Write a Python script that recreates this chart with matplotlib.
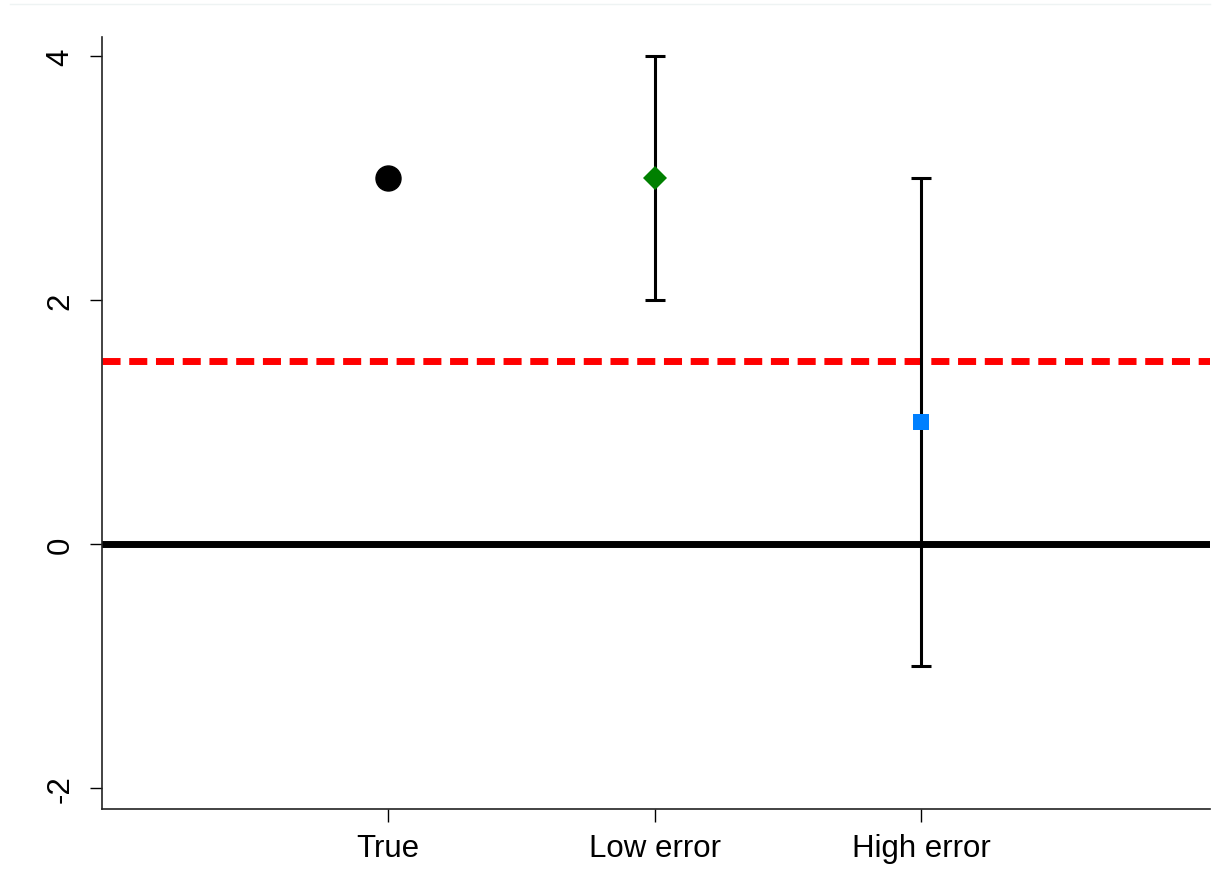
import numpy as np
import matplotlib.pyplot as plt

plt.rcParams['font.family'] = ['Liberation Sans', 'DejaVu Sans']

groups = ["True", "Low error", "High error"]
pos = [1, 2, 3]
est = [3, 3, 1]
lo = [None, 2, -1]
hi = [None, 4, 3]
ref_line = 1.5
yticks = [-2, 0, 2, 4]

fig = plt.figure(figsize=(12.22, 8.95), dpi=100)
ax = fig.add_axes([0.0835, 0.095, 0.9067, 0.8625])

ax.axhline(0, color='black', lw=5, zorder=1)
ax.axhline(ref_line, color='red', lw=5, dashes=(2.6, 1.25), zorder=1)

# error bars for the two estimators
for i in [1, 2]:
    ax.errorbar(pos[i], est[i], yerr=[[est[i] - lo[i]], [hi[i] - est[i]]],
                fmt='none', ecolor='black', elinewidth=2.2, capsize=7, capthick=2.2, zorder=2)

ax.plot(pos[0], est[0], 'o', color='black', ms=18, zorder=3)
ax.plot(pos[1], est[1], 'D', color='#008000', ms=11.8, mew=0, zorder=3)
ax.plot(pos[2], est[2], 's', color='#0080ff', ms=12, mew=0, zorder=3)

ax.set_xlim(-0.073, 4.084)
ax.set_ylim(-2.172, 4.156)
ax.set_xticks(pos)
ax.set_xticklabels(groups, fontsize=22.5)
ax.set_yticks(yticks)
ax.set_yticklabels([str(v) for v in yticks], fontsize=22.5, rotation=90, va='center')
ax.tick_params(length=9, width=1, pad=8)
ax.tick_params(axis='y', pad=10)

for s in ['top', 'right']:
    ax.spines[s].set_visible(False)
for s in ['left', 'bottom']:
    ax.spines[s].set_linewidth(1.2)
    ax.spines[s].set_color('#222222')

fig.add_artist(plt.Line2D([0.008, 0.99], [0.9944, 0.9944], color='#eef3f3', lw=1))

fig.savefig('out.png', dpi=100)
